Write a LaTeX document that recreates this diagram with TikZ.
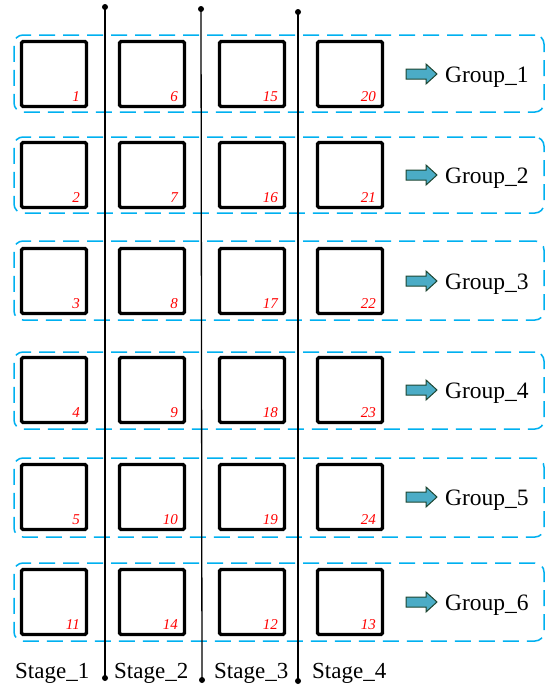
\documentclass[tikz,border=0pt]{standalone}
\usepackage{fontspec}
\setmainfont{Liberation Serif}
\definecolor{grpblue}{RGB}{0,176,240}
\definecolor{arrfill}{RGB}{75,172,198}
\definecolor{arrline}{RGB}{30,70,50}
\begin{document}
\begin{tikzpicture}[x=1pt,y=-1pt,
  cell/.style={draw=black,line width=3.2pt,rounded corners=1.5pt,minimum size=65pt,inner sep=0pt},
  grpbox/.style={draw=grpblue,line width=1.5pt,dash pattern=on 16pt off 8pt,rounded corners=9pt,inner sep=0pt},
  numlbl/.style={text=red,font=\itshape\fontsize{15}{15}\selectfont,anchor=base east,inner sep=0pt},
  grplbl/.style={font=\fontsize{23.5}{23.5}\selectfont,anchor=base west,inner sep=0pt},
  stglbl/.style={font=\fontsize{23}{23}\selectfont,anchor=base west,inner sep=0pt},
  stageline/.style={draw=black,line width=1.3pt},
  dotmark/.style={circle,fill=black,inner sep=0pt,minimum size=6pt},
  grparrow/.style={fill=arrfill,draw=arrline,line width=1pt,line join=miter}
]
\useasboundingbox (0,0) rectangle (549,688);

% group boxes
\foreach \r/\t/\bt/\bb in {1/40/35/112,2/141/137/213,3/247/241/320,4/356/352/429,5/463/458/537,6/568/563/641}{
  \node[grpbox,minimum width=530pt,minimum height={\bb-\bt}] (g\r) at (279,{(\bt+\bb)/2}) {};
}

% stage lines
\node[dotmark] (t1) at (105,7) {};
\node[dotmark] (b1) at (105,678) {};
\node[dotmark] (t2) at (201,9) {};
\node[dotmark] (b2) at (202,680) {};
\node[dotmark] (t3) at (298,12) {};
\node[dotmark] (b3) at (298,681) {};
\draw[stageline] (t1.center) -- (b1.center);
\draw[stageline] (t2.center) -- (b2.center);
\draw[stageline] (t3.center) -- (b3.center);

% cells
\foreach \r/\t/\na/\nb/\nc/\nd in {1/40/1/6/15/20,2/141/2/7/16/21,3/247/3/8/17/22,4/356/4/9/18/23,5/463/5/10/19/24,6/568/11/14/12/13}{
  \foreach \c/\x/\n in {1/20/\na,2/118/\nb,3/218/\nc,4/316/\nd}{
    \node[cell,fill=white] (s\r\c) at ({\x+34},{\t+34}) {};
    \node[numlbl] (n\r\c) at ({\x+60},{\t+61}) {\n};
  }
  \draw[grparrow] (406,{\t+29}) -- (426,{\t+29}) -- (426,{\t+24}) -- (437,{\t+34})
     -- (426,{\t+44}) -- (426,{\t+39}) -- (406,{\t+39}) -- cycle;
  \node[grplbl] (gl\r) at (445,{\t+42}) {Group\_\r};
}

% stage labels
\node[stglbl] (st1) at (15,678) {Stage\_1};
\node[stglbl] (st2) at (114,678) {Stage\_2};
\node[stglbl] (st3) at (214,678) {Stage\_3};
\node[stglbl] (st4) at (312,678) {Stage\_4};
\end{tikzpicture}
\end{document}
